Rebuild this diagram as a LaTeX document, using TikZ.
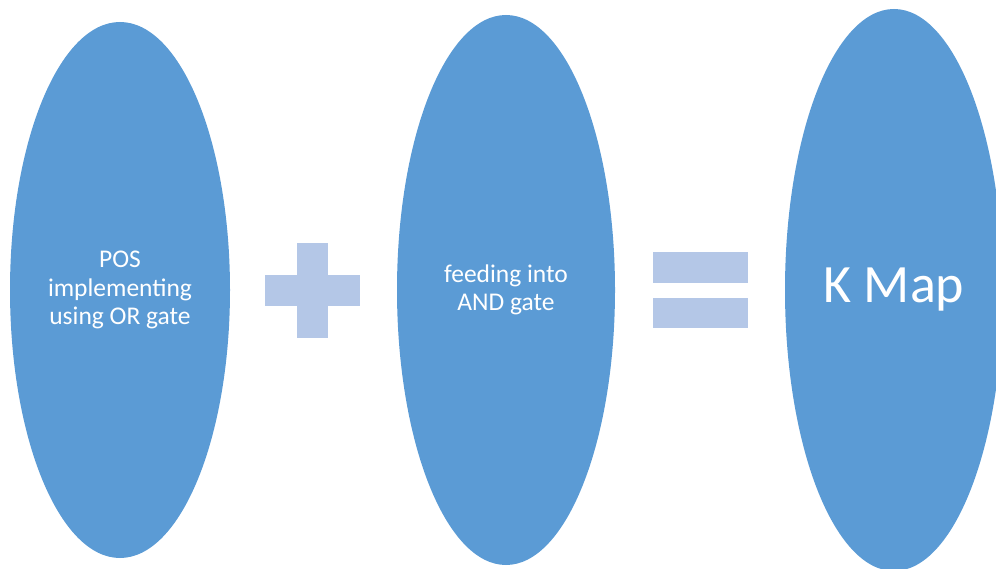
\documentclass[tikz,border=0pt]{standalone}
\usepackage{fontspec}
\setmainfont{Carlito}
\usetikzlibrary{shapes.geometric}
\definecolor{ovalblue}{HTML}{5B9BD5}
\definecolor{signblue}{HTML}{B4C7E7}
\tikzset{
  oval/.style={ellipse, fill=ovalblue, draw=none, inner sep=0pt, text=white,
    align=center, font=\fontsize{25.5}{28.5}\selectfont},
  signbar/.style={fill=signblue, draw=none}
}
\begin{document}
\begin{tikzpicture}[x=1pt, y=-1pt]
  \useasboundingbox (0,0) rectangle (996,569);
  % three ovals
  \node[oval, minimum width=220pt, minimum height=536pt] (pos) at (120,290)
    {POS\\implementing\\using OR gate};
  \node[oval, minimum width=218pt, minimum height=550pt] (and) at (506,290)
    {feeding into\\AND gate};
  \node[oval, minimum width=218pt, minimum height=562pt,
    font=\fontsize{54}{60}\selectfont] (kmap) at (894,290) {K Map};
  % plus sign
  \fill[signbar] (265,275) rectangle (360,306);
  \fill[signbar] (297,243) rectangle (328,338);
  % equals sign
  \fill[signbar] (653,252) rectangle (748,283);
  \fill[signbar] (653,298) rectangle (748,328);
\end{tikzpicture}
\end{document}
